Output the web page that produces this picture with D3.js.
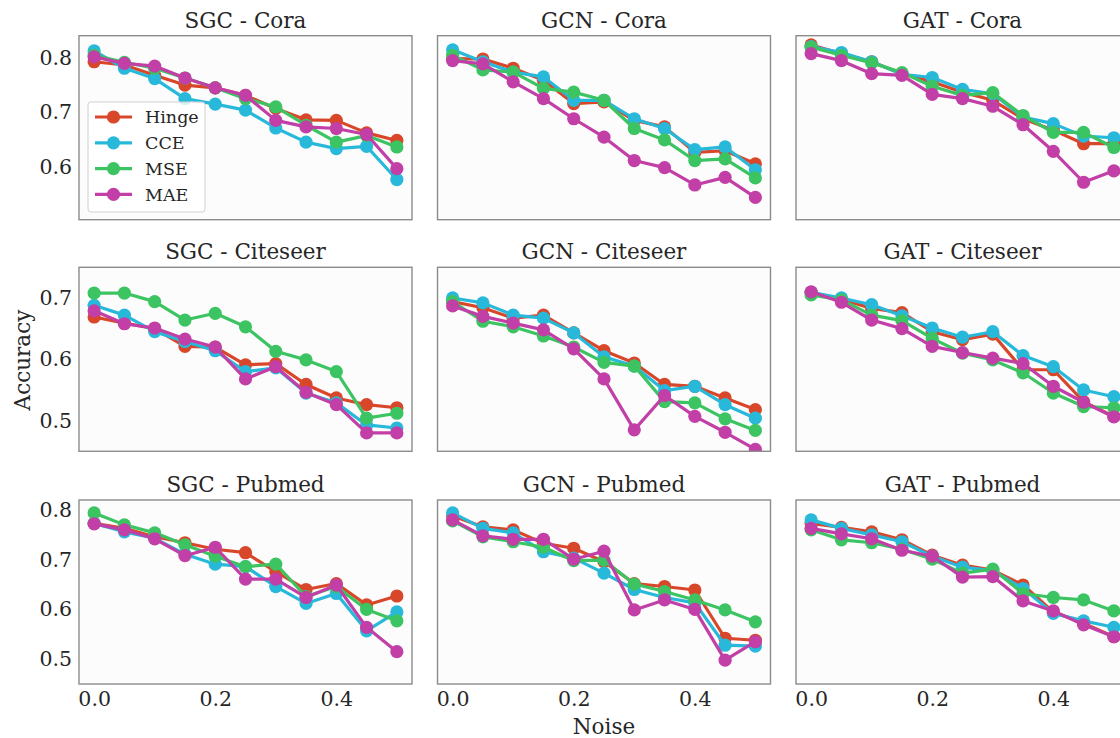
<!DOCTYPE html>
<html lang="en">
<head>
<meta charset="UTF-8">
<title>Accuracy vs Noise</title>
<script src="https://cdn.jsdelivr.net/npm/d3@7"></script>
<style>
    body { margin: 0; background: #fff; }
    svg text { font-family: "DejaVu Serif", serif; fill: #262626; }
    .tick text { font-size: 20.5px; }
</style>
</head>
<body>
<div id="chart"></div>
<script>
    const noise = [0, 0.05, 0.1, 0.15, 0.2, 0.25, 0.3, 0.35, 0.4, 0.45, 0.5];
    const models = ["SGC", "GCN", "GAT"];
    const datasets = ["Cora", "Citeseer", "Pubmed"];
    const losses = ["Hinge", "CCE", "MSE", "MAE"];
    const lossColors = ["#d9472b", "#28b9da", "#3cc462", "#c13fa6"];

    // rows: Hinge, CCE, MSE, MAE
    const sgcCora = [
        [0.793, 0.787, 0.768, 0.750, 0.745, 0.731, 0.707, 0.686, 0.685, 0.662, 0.648],
        [0.813, 0.781, 0.762, 0.725, 0.715, 0.704, 0.671, 0.645, 0.633, 0.637, 0.576],
        [0.805, 0.792, 0.781, 0.763, 0.745, 0.725, 0.710, 0.676, 0.645, 0.657, 0.636],
        [0.802, 0.790, 0.785, 0.763, 0.745, 0.731, 0.685, 0.673, 0.670, 0.659, 0.596]
    ];
    const gcnCora = [
        [0.799, 0.798, 0.781, 0.759, 0.716, 0.719, 0.685, 0.673, 0.626, 0.629, 0.605],
        [0.815, 0.793, 0.774, 0.765, 0.722, 0.722, 0.688, 0.670, 0.631, 0.636, 0.594],
        [0.805, 0.778, 0.774, 0.744, 0.737, 0.722, 0.670, 0.649, 0.611, 0.614, 0.579],
        [0.795, 0.789, 0.756, 0.725, 0.688, 0.654, 0.611, 0.598, 0.566, 0.580, 0.543]
    ];
    const gatCora = [
        [0.824, 0.808, 0.793, 0.771, 0.756, 0.737, 0.722, 0.688, 0.667, 0.642, 0.642],
        [0.821, 0.810, 0.793, 0.770, 0.764, 0.742, 0.734, 0.691, 0.679, 0.656, 0.653],
        [0.820, 0.805, 0.791, 0.773, 0.748, 0.731, 0.736, 0.694, 0.663, 0.663, 0.635],
        [0.808, 0.795, 0.771, 0.768, 0.733, 0.725, 0.711, 0.677, 0.628, 0.571, 0.592]
    ];
    const sgcCiteseer = [
        [0.669, 0.659, 0.650, 0.621, 0.620, 0.591, 0.593, 0.559, 0.537, 0.526, 0.521],
        [0.688, 0.672, 0.645, 0.629, 0.614, 0.580, 0.586, 0.545, 0.529, 0.493, 0.488],
        [0.708, 0.708, 0.694, 0.664, 0.675, 0.653, 0.613, 0.599, 0.580, 0.504, 0.512],
        [0.679, 0.658, 0.651, 0.633, 0.620, 0.568, 0.588, 0.546, 0.526, 0.480, 0.480]
    ];
    const gcnCiteseer = [
        [0.694, 0.684, 0.667, 0.672, 0.643, 0.614, 0.594, 0.559, 0.556, 0.537, 0.518],
        [0.700, 0.692, 0.672, 0.667, 0.643, 0.604, 0.589, 0.549, 0.556, 0.526, 0.504],
        [0.694, 0.662, 0.653, 0.638, 0.620, 0.595, 0.589, 0.531, 0.529, 0.503, 0.484],
        [0.687, 0.670, 0.659, 0.648, 0.617, 0.568, 0.485, 0.541, 0.507, 0.481, 0.453]
    ];
    const gatCiteseer = [
        [0.709, 0.698, 0.683, 0.676, 0.645, 0.632, 0.641, 0.583, 0.583, 0.531, 0.507],
        [0.709, 0.700, 0.689, 0.671, 0.651, 0.636, 0.645, 0.606, 0.588, 0.550, 0.539],
        [0.705, 0.697, 0.672, 0.663, 0.634, 0.610, 0.599, 0.578, 0.545, 0.523, 0.521],
        [0.710, 0.693, 0.664, 0.650, 0.621, 0.611, 0.602, 0.593, 0.556, 0.530, 0.506]
    ];
    const sgcPubmed = [
        [0.773, 0.763, 0.746, 0.734, 0.721, 0.714, 0.676, 0.640, 0.652, 0.609, 0.627],
        [0.773, 0.756, 0.743, 0.711, 0.691, 0.686, 0.646, 0.612, 0.632, 0.557, 0.595],
        [0.794, 0.770, 0.754, 0.730, 0.707, 0.686, 0.691, 0.626, 0.646, 0.600, 0.577],
        [0.772, 0.760, 0.742, 0.708, 0.725, 0.661, 0.661, 0.624, 0.649, 0.564, 0.515]
    ];
    const gcnPubmed = [
        [0.788, 0.766, 0.760, 0.733, 0.723, 0.696, 0.652, 0.646, 0.639, 0.542, 0.538],
        [0.794, 0.763, 0.754, 0.716, 0.703, 0.673, 0.640, 0.624, 0.613, 0.528, 0.526],
        [0.778, 0.746, 0.736, 0.725, 0.698, 0.699, 0.651, 0.636, 0.619, 0.599, 0.575],
        [0.780, 0.748, 0.741, 0.741, 0.701, 0.717, 0.599, 0.619, 0.600, 0.498, 0.535]
    ];
    const gatPubmed = [
        [0.773, 0.765, 0.756, 0.740, 0.709, 0.689, 0.679, 0.649, 0.595, 0.572, 0.545],
        [0.780, 0.763, 0.750, 0.736, 0.707, 0.685, 0.678, 0.642, 0.592, 0.577, 0.564],
        [0.760, 0.740, 0.734, 0.721, 0.701, 0.673, 0.681, 0.632, 0.624, 0.619, 0.597],
        [0.763, 0.752, 0.742, 0.719, 0.707, 0.665, 0.666, 0.617, 0.597, 0.569, 0.545]
    ];

    const panels = [
        [sgcCora, gcnCora, gatCora],
        [sgcCiteseer, gcnCiteseer, gatCiteseer],
        [sgcPubmed, gcnPubmed, gatPubmed]
    ];
    const rowDomains = [[0.502, 0.841], [0.45, 0.75], [0.45, 0.82]];
    const rowTicks = [[0.6, 0.7, 0.8], [0.5, 0.6, 0.7], [0.5, 0.6, 0.7, 0.8]];
    const xTicks = [0, 0.2, 0.4];

    const width = 1120, height = 738;
    const colLeft = [79, 437.5, 796];
    const rowTop = [35.7, 267.3, 500];
    const pw = 333, ph = 184;

    const svg = d3.select("#chart").append("svg")
        .attr("width", width)
        .attr("height", height);

    const defs = svg.append("defs");

    panels.forEach((row, r) => {
        const y = d3.scaleLinear().domain(rowDomains[r]).range([rowTop[r] + ph, rowTop[r]]);
        row.forEach((series, c) => {
            const x = d3.scaleLinear().domain([-0.025, 0.525]).range([colLeft[c], colLeft[c] + pw]);
            const clipId = `clip-${r}-${c}`;
            defs.append("clipPath").attr("id", clipId)
                .append("rect")
                .attr("x", colLeft[c]).attr("y", rowTop[r])
                .attr("width", pw).attr("height", ph);

            const g = svg.append("g");

            g.append("rect")
                .attr("x", colLeft[c]).attr("y", rowTop[r])
                .attr("width", pw).attr("height", ph)
                .attr("fill", "#fcfcfc");

            const plot = g.append("g").attr("clip-path", `url(#${clipId})`);
            const line = d3.line().x((d, i) => x(noise[i])).y(d => y(d));

            series.forEach((vals, k) => {
                plot.append("path")
                    .datum(vals)
                    .attr("d", line)
                    .attr("fill", "none")
                    .attr("stroke", lossColors[k])
                    .attr("stroke-width", 3.2)
                    .attr("stroke-linejoin", "round");
                plot.selectAll(null)
                    .data(vals)
                    .enter().append("circle")
                    .attr("cx", (d, i) => x(noise[i]))
                    .attr("cy", d => y(d))
                    .attr("r", 6.6)
                    .attr("fill", lossColors[k]);
            });

            g.append("rect")
                .attr("x", colLeft[c]).attr("y", rowTop[r])
                .attr("width", pw).attr("height", ph)
                .attr("fill", "none")
                .attr("stroke", "#8c8c8c")
                .attr("stroke-width", 1.4);

            // title
            svg.append("text")
                .attr("x", colLeft[c] + pw / 2)
                .attr("y", rowTop[r] - 8)
                .attr("text-anchor", "middle")
                .style("font-size", "21.5px")
                .text(`${models[c]} - ${datasets[r]}`);

            if (c === 0) {
                const ya = d3.axisLeft(y).tickValues(rowTicks[r]).tickSize(0).tickPadding(7)
                    .tickFormat(d3.format(".1f"));
                svg.append("g")
                    .attr("transform", `translate(${colLeft[c]},0)`)
                    .call(ya)
                    .call(s => s.select(".domain").remove());
            }
            if (r === 2) {
                const xa = d3.axisBottom(x).tickValues(xTicks).tickSize(0).tickPadding(7)
                    .tickFormat(d3.format(".1f"));
                svg.append("g")
                    .attr("transform", `translate(0,${rowTop[r] + ph})`)
                    .call(xa)
                    .call(s => s.select(".domain").remove());
            }
        });
    });

    // legend in first panel
    const legend = svg.append("g").attr("transform", "translate(88,102)");
    legend.append("rect")
        .attr("width", 117).attr("height", 110)
        .attr("rx", 3)
        .attr("fill", "#ffffff").attr("fill-opacity", 0.8)
        .attr("stroke", "#d0d0d0");
    losses.forEach((name, k) => {
        const ly = 15 + k * 25.8;
        legend.append("line")
            .attr("x1", 7).attr("x2", 44)
            .attr("y1", ly).attr("y2", ly)
            .attr("stroke", lossColors[k]).attr("stroke-width", 3.2);
        legend.append("circle")
            .attr("cx", 25.5).attr("cy", ly).attr("r", 6.6)
            .attr("fill", lossColors[k]);
        legend.append("text")
            .attr("x", 57).attr("y", ly)
            .attr("dy", "0.35em")
            .style("font-size", "17.5px")
            .text(name);
    });

    // axis labels
    svg.append("text")
        .attr("transform", "translate(30,360) rotate(-90)")
        .attr("text-anchor", "middle")
        .style("font-size", "21.5px")
        .text("Accuracy");
    svg.append("text")
        .attr("x", 604).attr("y", 734)
        .attr("text-anchor", "middle")
        .style("font-size", "21.5px")
        .text("Noise");
</script>
</body>
</html>
